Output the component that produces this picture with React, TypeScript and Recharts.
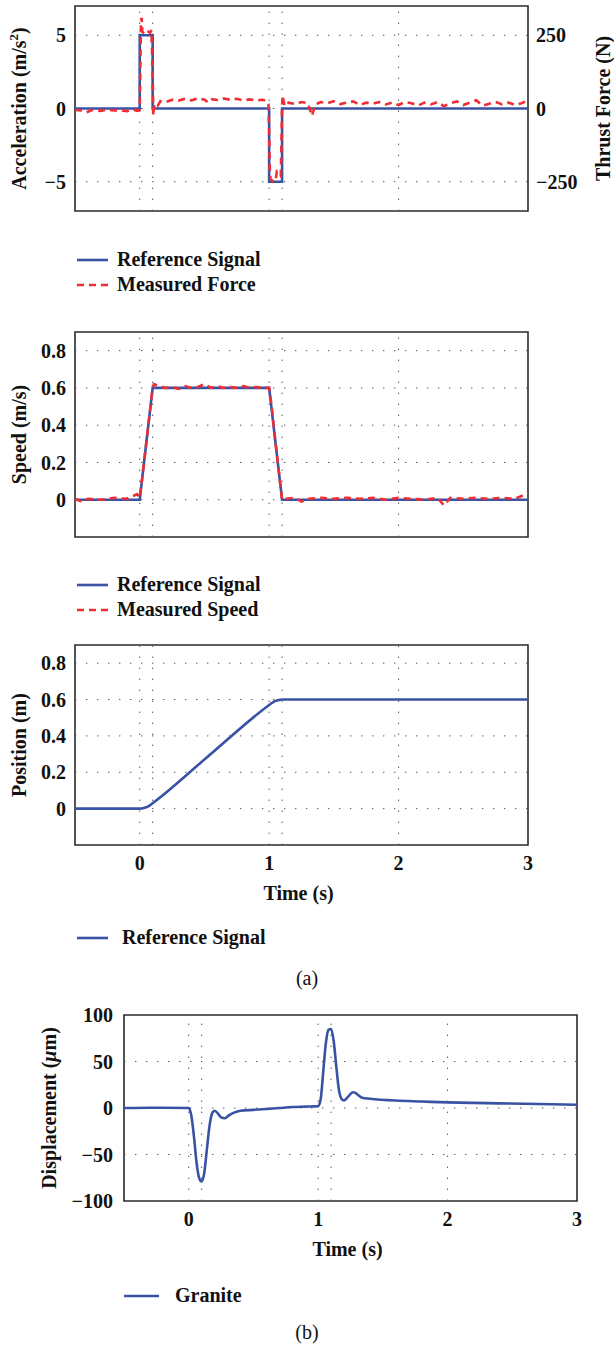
import React from "react";
import { LineChart, Line, XAxis, YAxis, ReferenceLine, ReferenceArea, Legend } from "recharts";

const FONT = "Liberation Serif, DejaVu Serif, serif";
const BLUE = "#3953a4";
const RED = "#ee2d35";
const GRID = "#555";
const FRAME = "#2b2b2b";

// shared x grid (dotted verticals)
const gridTimes = [0, 0.1, 1, 1.1, 2];
const timeTicks = [0, 1, 2, 3];

// (a) acceleration / thrust force
const accelTime = [-0.5, 0, 0, 0.1, 0.1, 1, 1, 1.1, 1.1, 3];
const accelRef = [0, 0, 5, 5, 0, 0, -5, -5, 0, 0];
const forceTime = [
  -0.5, -0.45, -0.41, -0.37, -0.3, -0.25, -0.2, -0.15, -0.1, -0.05, -0.02, 0, 0.005, 0.01, 0.015, 0.02, 0.04,
  0.06, 0.08, 0.09, 0.095, 0.1, 0.105, 0.11, 0.12, 0.14, 0.16, 0.2, 0.25, 0.3, 0.35, 0.4, 0.45, 0.5, 0.53,
  0.56, 0.6, 0.65, 0.7, 0.75, 0.8, 0.85, 0.9, 0.95, 0.98, 0.995, 1.0, 1.005, 1.01, 1.03, 1.05, 1.06, 1.075,
  1.09, 1.095, 1.1, 1.105, 1.11, 1.12, 1.15, 1.2, 1.25, 1.3, 1.33, 1.36, 1.4, 1.45, 1.5, 1.55, 1.6, 1.65,
  1.7, 1.75, 1.8, 1.85, 1.9, 1.95, 2.0, 2.05, 2.1, 2.15, 2.2, 2.25, 2.3, 2.35, 2.4, 2.45, 2.5, 2.55, 2.6,
  2.65, 2.7, 2.75, 2.8, 2.85, 2.9, 2.95, 3.0,
];
const forceVal = [
  -5, -7, -13, -5, -8, -4, -7, -6, -9, -4, -8, -5, 150, 300, 310, 262, 255,
  265, 258, 268, 200, 120, -25, 5, 18, 10, 25, 22, 30, 27, 33, 28, 35, 30, 20,
  32, 29, 34, 30, 33, 28, 31, 27, 30, 26, 15, -80, -200, -240, -250, -245, -215, -220,
  -230, -120, 10, 45, 30, 8, 20, 15, 22, 18, -25, 15, 22, 18, 25, 15, 20, 24,
  12, 20, 16, 22, 14, 20, 12, 22, 18, 10, 20, 14, 22, 8, 18, 24, 12, 20, 28,
  10, 16, 22, 14, 20, 12, 18, 28,
];

// speed
const speedRefTime = [-0.5, 0, 0.1, 1, 1.1, 3];
const speedRef = [0, 0, 0.6, 0.6, 0, 0];
const speedMeasTime = [
  -0.5, -0.45, -0.4, -0.3, -0.2, -0.1, -0.05, -0.02, 0, 0.02, 0.05, 0.08, 0.1, 0.11, 0.15, 0.2, 0.25, 0.3,
  0.35, 0.4, 0.45, 0.5, 0.55, 0.6, 0.65, 0.7, 0.75, 0.8, 0.85, 0.9, 0.95, 1.0, 1.02, 1.05, 1.08, 1.1, 1.12,
  1.2, 1.25, 1.3, 1.4, 1.5, 1.6, 1.7, 1.8, 1.9, 2.0, 2.1, 2.2, 2.3, 2.35, 2.4, 2.5, 2.6, 2.7, 2.8, 2.9,
  2.95, 3.0,
];
const speedMeas = [
  0.005, -0.01, 0.005, 0, 0.01, 0.005, 0.02, 0.03, 0.01, 0.12, 0.3, 0.48, 0.6, 0.62, 0.61, 0.6, 0.605, 0.595,
  0.61, 0.6, 0.605, 0.62, 0.6, 0.61, 0.6, 0.605, 0.6, 0.61, 0.6, 0.605, 0.6, 0.6, 0.5, 0.3, 0.12, 0, 0.005,
  0.01, -0.01, 0.005, 0.01, 0.005, 0.01, 0.005, 0.01, 0, 0.01, 0.005, 0, 0.01, -0.03, 0.01, 0.005, 0.01, 0.005,
  0.01, 0.005, 0.02, 0.04,
];

// position
const posTime = [-0.5, 0, 0.025, 0.05, 0.075, 0.1, 0.5, 1.0, 1.025, 1.05, 1.075, 1.1, 3];
const posRef = [0, 0, 0.002, 0.0075, 0.017, 0.03, 0.27, 0.57, 0.583, 0.5925, 0.598, 0.6, 0.6];

// (b) granite displacement (um)
const dispTime = [
  -0.5, -0.3, 0, 0.02, 0.04, 0.06, 0.08, 0.1, 0.12, 0.14, 0.16, 0.18, 0.2, 0.22, 0.25, 0.28, 0.31, 0.35,
  0.4, 0.5, 0.6, 0.7, 0.8, 0.9, 1.0, 1.02, 1.04, 1.06, 1.08, 1.1, 1.12, 1.14, 1.16, 1.18, 1.2, 1.23, 1.27,
  1.3, 1.34, 1.4, 1.6, 1.8, 2.0, 2.2, 2.4, 2.6, 2.8, 3.0,
];
const dispVal = [
  0, 0.3, 0, -8, -30, -58, -75, -79, -70, -45, -20, -6, -3, -5, -10, -11, -8, -5,
  -3, -2, -1, 0, 1, 1.5, 2, 10, 40, 70, 84, 85, 72, 45, 20, 10, 8, 12, 17,
  15, 11, 10, 8, 7, 6, 5.5, 5, 4.5, 4, 3.5,
];

const legendOrder = ["Reference Signal", "Measured Force", "Measured Speed", "Granite"];

const pts = (ts: number[], vs: number[]) => ts.map((t, i) => ({ t, v: vs[i] }));

const minus = (v: number) => (v < 0 ? `\u2212${Math.abs(v)}` : `${v}`);
const tickStyle = { fontFamily: FONT, fontSize: 20, fontWeight: 700, fill: "#111" };

function yLabel(x: number, parts: React.ReactNode) {
  return (props: any) => {
    const vb = props.viewBox || {};
    const cy = (vb.y || 0) + (vb.height || 0) / 2;
    return (
      <text
        x={x}
        y={cy}
        dy="0.35em"
        textAnchor="middle"
        fontFamily={FONT}
        fontSize={20}
        fontWeight={700}
        fill="#111"
        transform={`rotate(-90 ${x} ${cy})`}
      >
        {parts}
      </text>
    );
  };
}

function timeLabel(props: any) {
  const vb = props.viewBox || {};
  return (
    <text
      x={(vb.x || 0) + (vb.width || 0) / 2 - 3}
      y={(vb.y || 0) + 55}
      textAnchor="middle"
      fontFamily={FONT}
      fontSize={20}
      fontWeight={700}
      fill="#111"
    >
      Time (s)
    </text>
  );
}

function legendContent(lineW: number, gap: number) {
  return (props: any) => {
    const items = [...(props.payload || [])].sort(
      (a: any, b: any) => legendOrder.indexOf(a.value) - legendOrder.indexOf(b.value)
    );
    return (
      <div style={{ fontFamily: FONT, fontWeight: 700, fontSize: 20, color: "#111" }}>
        {items.map((it: any) => {
          const dash = it.payload?.strokeDasharray ?? (it.color === RED ? "7 5" : undefined);
          return (
            <div key={it.value} style={{ display: "flex", alignItems: "center", height: 25, whiteSpace: "nowrap" }}>
              <svg width={lineW} height={6} style={{ display: "block" }}>
                <line x1={0} y1={3} x2={lineW} y2={3} stroke={it.color} strokeWidth={2.6} strokeDasharray={dash} />
              </svg>
              <span style={{ marginLeft: gap }}>{it.value}</span>
            </div>
          );
        })}
      </div>
    );
  };
}

function vGrid(yAxisId?: string) {
  return gridTimes.map((t) => (
    <ReferenceLine key={`vx${t}`} x={t} yAxisId={yAxisId} stroke={GRID} strokeWidth={1} strokeDasharray="1.4 9.6" />
  ));
}

function hGrid(values: number[], yAxisId?: string) {
  return values.map((v) => (
    <ReferenceLine key={`hy${v}`} y={v} yAxisId={yAxisId} stroke={GRID} strokeWidth={1} strokeDasharray="1.4 9.6" />
  ));
}

function AccelChart() {
  return (
    <LineChart width={614} height={300} margin={{ top: 6, right: 0, bottom: 89, left: 0 }}>
      <XAxis type="number" dataKey="t" domain={[-0.5, 3]} hide allowDataOverflow />
      <YAxis
        yAxisId="left"
        type="number"
        domain={[-7, 7]}
        ticks={[-5, 0, 5]}
        width={75}
        tickFormatter={minus}
        tick={tickStyle}
        tickLine={false}
        axisLine={false}
        tickSize={0}
        tickMargin={9}
        label={yLabel(19, [
          <tspan key="a">Acceleration (m/s</tspan>,
          <tspan key="b" fontSize={13} dy={-8}>2</tspan>,
          <tspan key="c" dy={8}>)</tspan>,
        ])}
      />
      <YAxis
        yAxisId="right"
        orientation="right"
        type="number"
        domain={[-350, 350]}
        ticks={[-250, 0, 250]}
        width={86}
        tickFormatter={minus}
        tick={{ ...tickStyle, textAnchor: "start" }}
        tickLine={false}
        axisLine={false}
        tickSize={0}
        tickMargin={8}
        label={yLabel(603, "Thrust Force (N)")}
      />
      {vGrid("left")}
      {hGrid([-5, 0, 5], "left")}
      <Line
        yAxisId="left"
        data={pts(accelTime, accelRef)}
        dataKey="v"
        name="Reference Signal"
        type="linear"
        stroke={BLUE}
        strokeWidth={2.6}
        dot={false}
        activeDot={false}
        isAnimationActive={false}
      />
      <Line
        yAxisId="right"
        data={pts(forceTime, forceVal)}
        dataKey="v"
        name="Measured Force"
        type="linear"
        stroke={RED}
        strokeWidth={2.6}
        strokeDasharray="7 5"
        dot={false}
        activeDot={false}
        isAnimationActive={false}
      />
      <ReferenceArea yAxisId="left" x1={-0.5} x2={3} y1={-7} y2={7} fill="none" stroke={FRAME} strokeWidth={1.6} ifOverflow="visible" />
      <Legend
        layout="horizontal"
        verticalAlign="middle"
        align="center"
        wrapperStyle={{ top: 247, left: 77, width: "auto", height: "auto" }}
        content={legendContent(31, 9)}
      />
    </LineChart>
  );
}

function SpeedChart() {
  return (
    <LineChart width={614} height={330} margin={{ top: 32, right: 86, bottom: 93, left: 0 }}>
      <XAxis type="number" dataKey="t" domain={[-0.5, 3]} hide allowDataOverflow />
      <YAxis
        type="number"
        domain={[-0.2, 0.9]}
        ticks={[0, 0.2, 0.4, 0.6, 0.8]}
        width={75}
        tick={tickStyle}
        tickLine={false}
        axisLine={false}
        tickSize={0}
        tickMargin={9}
        label={yLabel(19, "Speed (m/s)")}
      />
      {vGrid()}
      {hGrid([0, 0.2, 0.4, 0.6, 0.8])}
      <Line
        data={pts(speedRefTime, speedRef)}
        dataKey="v"
        name="Reference Signal"
        type="linear"
        stroke={BLUE}
        strokeWidth={2.6}
        dot={false}
        activeDot={false}
        isAnimationActive={false}
      />
      <Line
        data={pts(speedMeasTime, speedMeas)}
        dataKey="v"
        name="Measured Speed"
        type="linear"
        stroke={RED}
        strokeWidth={2.6}
        strokeDasharray="7 5"
        dot={false}
        activeDot={false}
        isAnimationActive={false}
      />
      <ReferenceArea x1={-0.5} x2={3} y1={-0.2} y2={0.9} fill="none" stroke={FRAME} strokeWidth={1.6} ifOverflow="visible" />
      <Legend
        layout="horizontal"
        verticalAlign="middle"
        align="center"
        wrapperStyle={{ top: 272, left: 77, width: "auto", height: "auto" }}
        content={legendContent(31, 9)}
      />
    </LineChart>
  );
}

function PositionChart() {
  return (
    <LineChart width={614} height={360} margin={{ top: 15, right: 86, bottom: 80, left: 0 }}>
      <XAxis
        type="number"
        dataKey="t"
        domain={[-0.5, 3]}
        ticks={timeTicks}
        height={65}
        tick={tickStyle}
        tickLine={false}
        axisLine={false}
        tickSize={0}
        tickMargin={11}
        label={timeLabel}
        allowDataOverflow
      />
      <YAxis
        type="number"
        domain={[-0.2, 0.9]}
        ticks={[0, 0.2, 0.4, 0.6, 0.8]}
        width={75}
        tick={tickStyle}
        tickLine={false}
        axisLine={false}
        tickSize={0}
        tickMargin={9}
        label={yLabel(19, "Position (m)")}
      />
      {vGrid()}
      {hGrid([0, 0.2, 0.4, 0.6, 0.8])}
      <Line
        data={pts(posTime, posRef)}
        dataKey="v"
        name="Reference Signal"
        type="monotone"
        stroke={BLUE}
        strokeWidth={2.6}
        dot={false}
        activeDot={false}
        isAnimationActive={false}
      />
      <ReferenceArea x1={-0.5} x2={3} y1={-0.2} y2={0.9} fill="none" stroke={FRAME} strokeWidth={1.6} ifOverflow="visible" />
      <Legend
        layout="horizontal"
        verticalAlign="middle"
        align="center"
        wrapperStyle={{ top: 295, left: 77, width: "auto", height: "auto" }}
        content={legendContent(31, 14)}
      />
    </LineChart>
  );
}

function DisplacementChart() {
  return (
    <LineChart width={614} height={356} margin={{ top: 25, right: 37, bottom: 80, left: 0 }}>
      <XAxis
        type="number"
        dataKey="t"
        domain={[-0.5, 3]}
        ticks={timeTicks}
        height={65}
        tick={tickStyle}
        tickLine={false}
        axisLine={false}
        tickSize={0}
        tickMargin={11}
        label={timeLabel}
        allowDataOverflow
      />
      <YAxis
        type="number"
        domain={[-100, 100]}
        ticks={[-100, -50, 0, 50, 100]}
        width={124}
        tickFormatter={minus}
        tick={tickStyle}
        tickLine={false}
        axisLine={false}
        tickSize={0}
        tickMargin={11}
        label={yLabel(49, [
          <tspan key="a">Displacement (</tspan>,
          <tspan key="b" fontStyle="italic">μ</tspan>,
          <tspan key="c">m)</tspan>,
        ])}
      />
      {vGrid()}
      {hGrid([-50, 0, 50])}
      <Line
        data={pts(dispTime, dispVal)}
        dataKey="v"
        name="Granite"
        type="monotone"
        stroke={BLUE}
        strokeWidth={2.6}
        dot={false}
        activeDot={false}
        isAnimationActive={false}
      />
      <ReferenceArea x1={-0.5} x2={3} y1={-100} y2={100} fill="none" stroke={FRAME} strokeWidth={1.6} ifOverflow="visible" />
      <Legend
        layout="horizontal"
        verticalAlign="middle"
        align="center"
        wrapperStyle={{ top: 293, left: 124, width: "auto", height: "auto" }}
        content={legendContent(35, 16)}
      />
    </LineChart>
  );
}

const caption = (text: string, top: number) => (
  <div
    style={{
      position: "absolute",
      top,
      left: 0,
      width: 614,
      textAlign: "center",
      fontFamily: FONT,
      fontSize: 20,
      color: "#111",
      lineHeight: "24px",
    }}
  >
    {text}
  </div>
);

export default function App() {
  return (
    <div style={{ position: "absolute", left: 0, top: 0, width: 614, height: 1346, background: "#fff", overflow: "hidden", fontFamily: FONT }}>
      <div style={{ position: "absolute", top: 0, left: 0 }}>
        <AccelChart />
      </div>
      <div style={{ position: "absolute", top: 300, left: 0 }}>
        <SpeedChart />
      </div>
      <div style={{ position: "absolute", top: 630, left: 0 }}>
        <PositionChart />
      </div>
      {caption("(a)", 966)}
      <div style={{ position: "absolute", top: 990, left: 0 }}>
        <DisplacementChart />
      </div>
      {caption("(b)", 1320)}
    </div>
  );
}
